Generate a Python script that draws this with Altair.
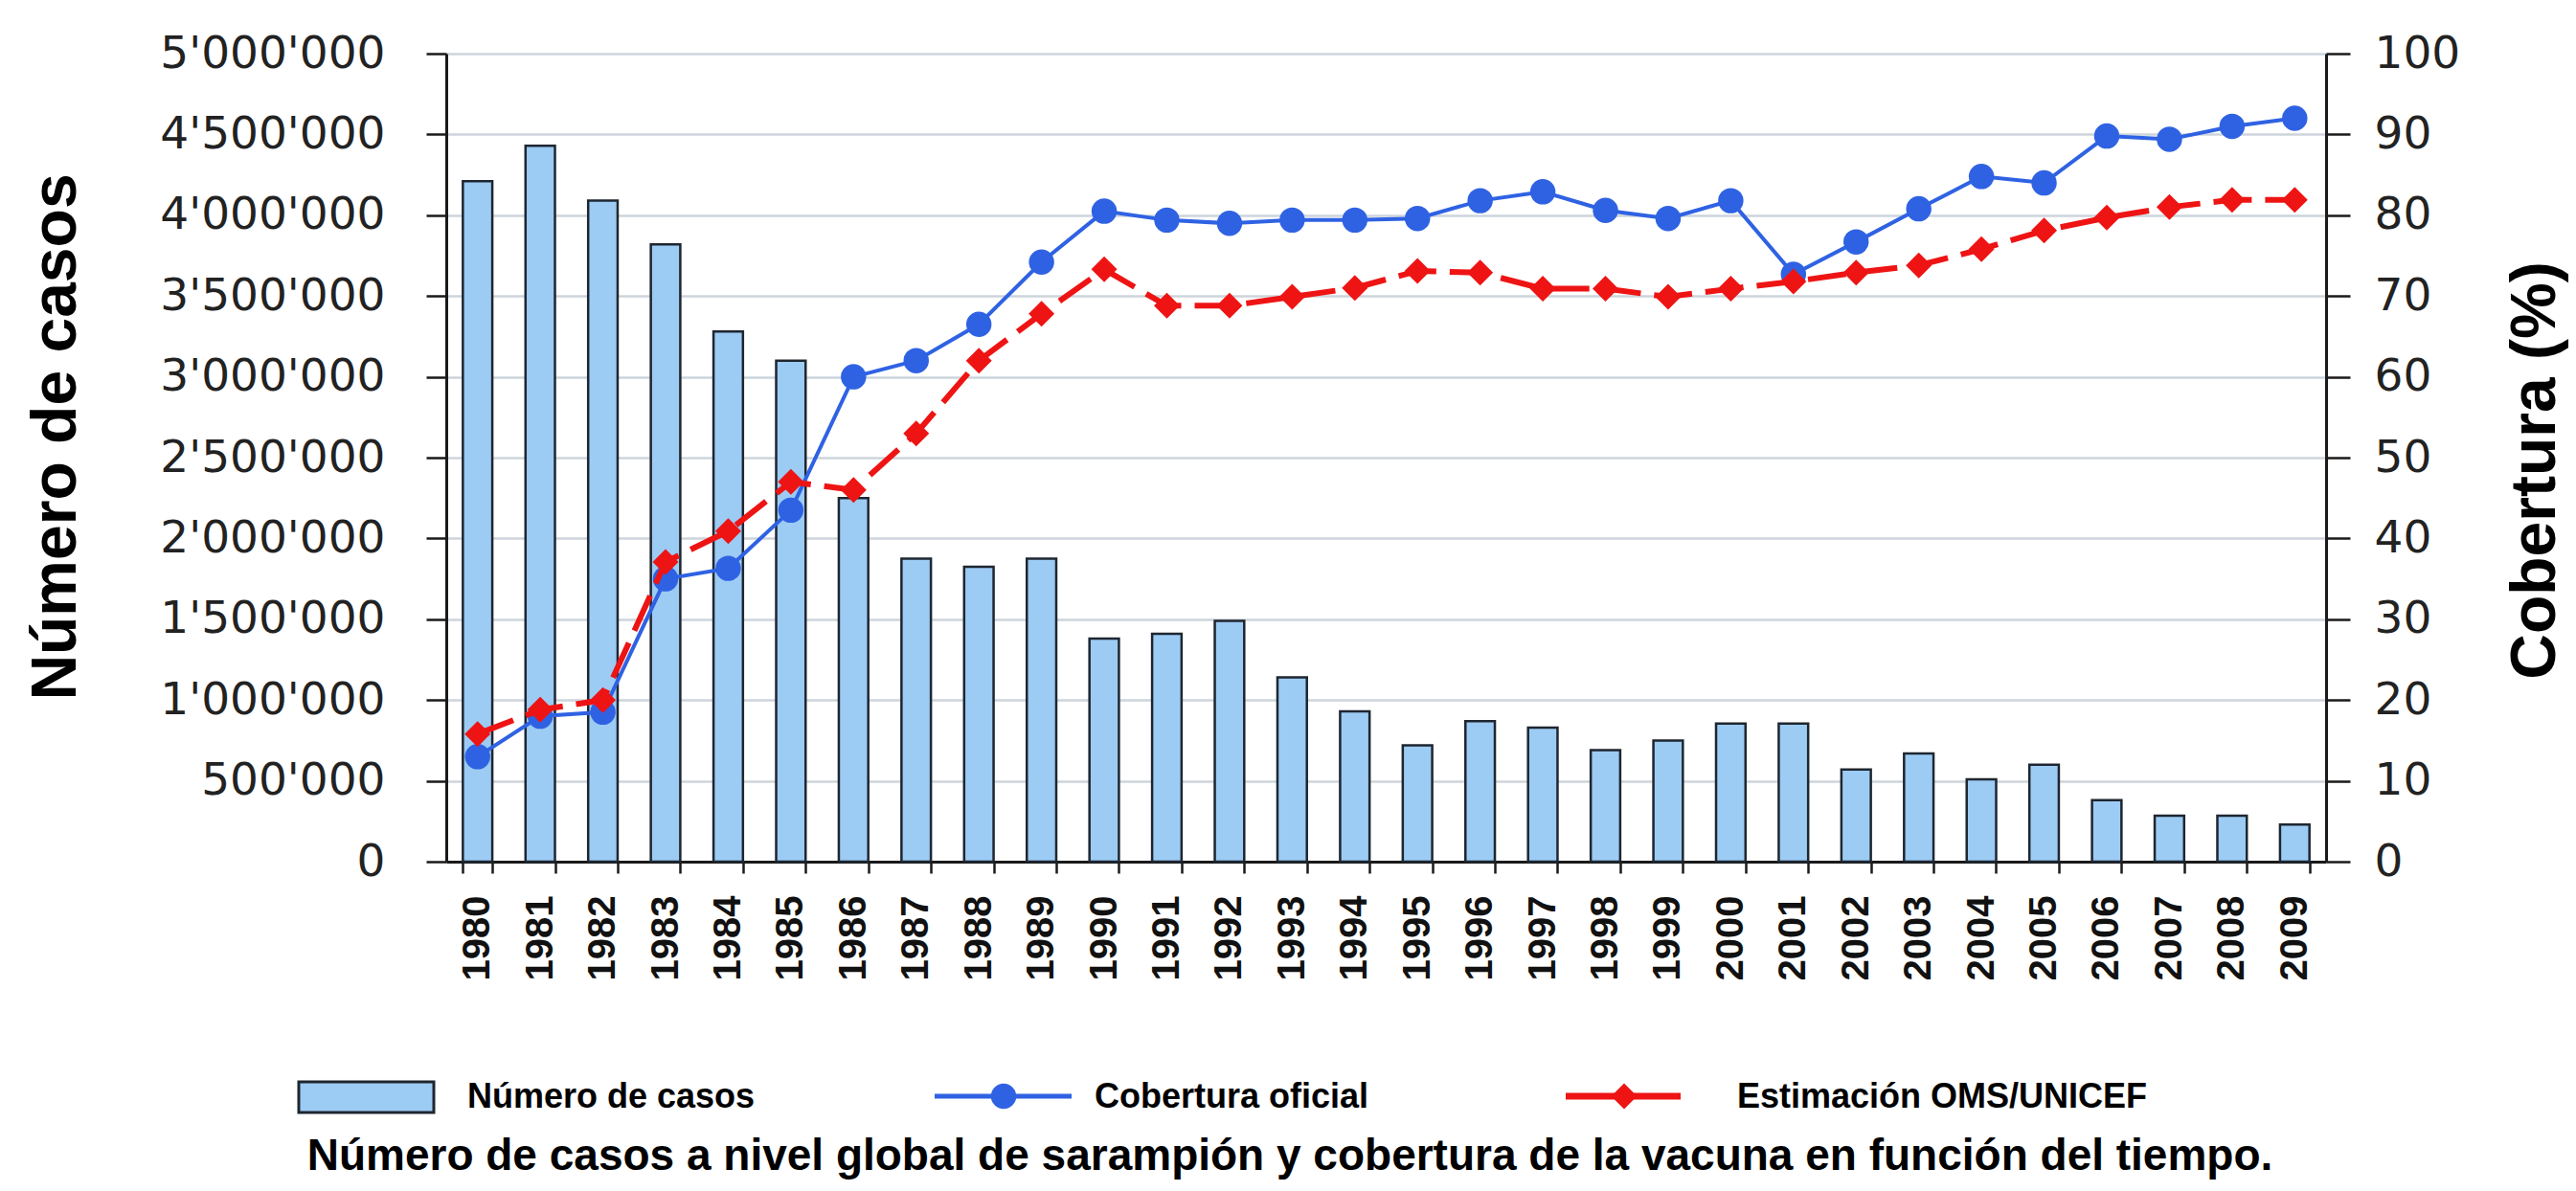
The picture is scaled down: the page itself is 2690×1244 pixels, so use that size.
import altair as alt
import pandas as pd

# ---------------- data ----------------
years = ["1980", "1981", "1982", "1983", "1984", "1985", "1986", "1987", "1988", "1989",
         "1990", "1991", "1992", "1993", "1994", "1995", "1996", "1997", "1998", "1999",
         "2000", "2001", "2002", "2003", "2004", "2005", "2006", "2007", "2008", "2009"]

casos = [4210000, 4430000, 4090000, 3820000, 3280000, 3100000, 2250000, 1875000, 1825000, 1875000,
         1380000, 1410000, 1490000, 1140000, 930000, 720000, 870000, 830000, 690000, 750000,
         855000, 855000, 570000, 670000, 510000, 600000, 380000, 285000, 285000, 230000]

oficial = [13, 18, 18.5, 35, 36.3, 43.5, 60, 62, 66.5, 74.2,
           80.5, 79.4, 79, 79.4, 79.4, 79.6, 81.8, 82.9, 80.6, 79.6,
           81.8, 72.7, 76.7, 80.8, 84.8, 84, 89.8, 89.4, 91, 92]

oms = [15.8, 18.8, 20, 37.1, 40.9, 47, 46, 53, 62, 67.8,
       73.3, 68.8, 68.8, 69.9, 71, 73.1, 72.9, 70.9, 70.9, 69.9,
       70.9, 71.8, 72.9, 73.8, 75.8, 78.1, 79.7, 81, 81.9, 81.9]

left_ticks = [0, 500000, 1000000, 1500000, 2000000, 2500000, 3000000, 3500000, 4000000, 4500000, 5000000]
right_ticks = [0, 10, 20, 30, 40, 50, 60, 70, 80, 90, 100]

left_title = "Número de casos"
right_title = "Cobertura (%)"
legend_labels = ["Número de casos", "Cobertura oficial", "Estimación OMS/UNICEF"]
caption = "Número de casos a nivel global de sarampión y cobertura de la vacuna en función del tiempo."

df = pd.DataFrame({"year": years, "casos": casos, "oficial": oficial, "oms": oms})
one = pd.DataFrame({"k": [0]})

# ---------------- style ----------------
BAR_FILL = "#9ccbf4"
BAR_STROKE = "#1e2630"
BLUE = "#2f62e3"
RED = "#ee1414"
GRID = "#cdd4db"
INK = "#1a1a1a"
LABEL_FONT = "DejaVu Sans"
BOLD_FONT = "Liberation Sans"

x_enc = alt.X(
    "year:O", sort=years, title=None,
    scale=alt.Scale(type="band", paddingInner=0.53, paddingOuter=0.265),
    axis=alt.Axis(labelAngle=270, labelFont=BOLD_FONT, labelFontWeight="bold", labelFontSize=40,
                  labelColor="#111111", labelPadding=23, labelOverlap=False, tickBand="extent",
                  tickSize=12, tickWidth=2.5, tickColor=INK, domainColor=INK, domainWidth=3,
                  grid=False),
)

left_axis = alt.Axis(
    values=left_ticks,
    labelExpr="replace(format(datum.value, ','), regexp(',', 'g'), \"'\")",
    labelFont=LABEL_FONT, labelFontSize=47, labelColor="#222222", labelPadding=43,
    labelLimit=600,
    tickSize=21, tickWidth=2.5, tickColor=INK, domainColor=INK, domainWidth=3,
    grid=True, gridColor=GRID, gridWidth=2.5,
    title=left_title, titleFont=BOLD_FONT, titleFontWeight="bold", titleFontSize=66,
    titleColor="black", titleAngle=270, titleX=-388, titleY=400, titleAlign="center",
    titleBaseline="alphabetic", titleLimit=1000,
)

right_axis = alt.Axis(
    orient="right", values=right_ticks,
    labelFont=LABEL_FONT, labelFontSize=47, labelColor="#222222", labelPadding=25,
    labelLimit=600,
    tickSize=25, tickWidth=2.5, tickColor=INK, domainColor=INK, domainWidth=3,
    grid=False,
    title=right_title, titleFont=BOLD_FONT, titleFontWeight="bold", titleFontSize=66,
    titleColor="black", titleAngle=270, titleX=238, titleY=435, titleAlign="center",
    titleBaseline="alphabetic", titleLimit=1000,
)


def right_y(field):
    return alt.Y(f"{field}:Q", scale=alt.Scale(domain=[0, 100], nice=False), axis=right_axis)


bars = alt.Chart(df).mark_bar(fill=BAR_FILL, stroke=BAR_STROKE, strokeWidth=2.5).encode(
    x=x_enc,
    y=alt.Y("casos:Q", scale=alt.Scale(domain=[0, 5000000], nice=False), axis=left_axis),
)

blue_line = alt.Chart(df).mark_line(color=BLUE, strokeWidth=4).encode(x=x_enc, y=right_y("oficial"))
blue_pts = alt.Chart(df).mark_point(shape="circle", filled=True, size=700, color=BLUE, opacity=1).encode(
    x=x_enc, y=right_y("oficial"))
red_line = alt.Chart(df).mark_line(color=RED, strokeWidth=6, strokeDash=[40, 14]).encode(
    x=x_enc, y=right_y("oms"))
red_pts = alt.Chart(df).mark_point(shape="diamond", filled=True, size=729, color=RED, opacity=1).encode(
    x=x_enc, y=right_y("oms"))

lines = alt.layer(blue_line, blue_pts, red_line, red_pts)

# ---------------- legend & caption (decorations) ----------------
def label(text, x, y, size=36, align="left"):
    return alt.Chart(one).mark_text(
        text=text, font=BOLD_FONT, fontWeight="bold", fontSize=size, align=align,
        baseline="alphabetic", color="black", limit=3000,
    ).encode(x=alt.value(x), y=alt.value(y))


leg_rect = alt.Chart(one).mark_rect(fill=BAR_FILL, stroke=BAR_STROKE, strokeWidth=3).encode(
    x=alt.value(-154), x2=alt.value(-13), y=alt.value(1074), y2=alt.value(1106))
leg_blue_line = alt.Chart(one).mark_rule(color=BLUE, strokeWidth=5).encode(
    x=alt.value(510), x2=alt.value(653), y=alt.value(1089))
leg_blue_pt = alt.Chart(one).mark_point(shape="circle", filled=True, size=700, color=BLUE, opacity=1).encode(
    x=alt.value(582), y=alt.value(1089))
leg_red_line = alt.Chart(one).mark_rule(color=RED, strokeWidth=7).encode(
    x=alt.value(1169), x2=alt.value(1289), y=alt.value(1089))
leg_red_pt = alt.Chart(one).mark_point(shape="diamond", filled=True, size=729, color=RED, opacity=1).encode(
    x=alt.value(1230), y=alt.value(1089))

decos = [
    leg_rect, label(legend_labels[0], 22, 1101),
    leg_blue_line, leg_blue_pt, label(legend_labels[1], 677, 1101),
    leg_red_line, leg_red_pt, label(legend_labels[2], 1348, 1101),
    label(caption, 881, 1166, size=46, align="center"),
]

chart = alt.layer(bars, lines, *decos).resolve_scale(y="independent").properties(
    width=1963, height=844,
    padding={"left": 458, "top": 48, "right": 253, "bottom": 336},
    autosize=alt.AutoSizeParams(type="none"),
    background="white",
).configure_view(strokeWidth=0)

chart.save("out.html", embed_options={"renderer": "svg", "actions": False})
